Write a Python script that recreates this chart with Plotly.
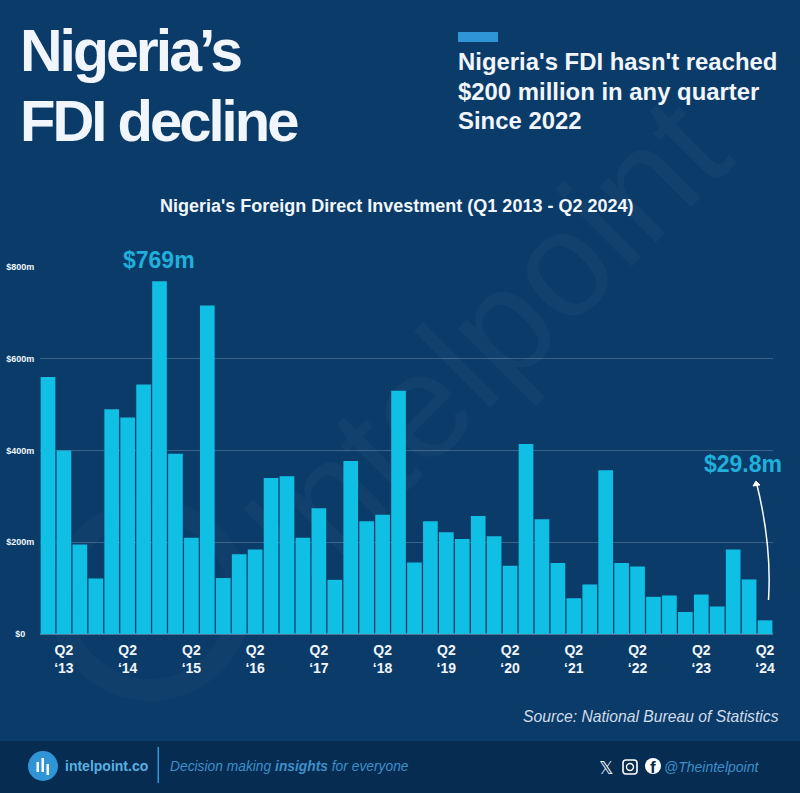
import plotly.graph_objects as go

W, H = 800, 793

# Nigeria FDI per quarter, US$ million
quarters = [f"Q{q} {y}" for y in range(2013, 2025) for q in range(1, 5)][:46]
fdi = [560, 400, 195, 121, 490, 472, 544, 769, 393, 210, 716, 122,
       174, 184, 340, 344, 210, 274, 118, 377, 246, 260, 530, 156,
       246, 222, 207, 257, 213, 149, 414, 250, 155, 78, 108, 357,
       155, 147, 81, 84, 48, 86, 60, 184, 119, 29.8]

x_ticks = [f"Q2 {y}" for y in range(2013, 2025)]
x_labels = [f"Q2<br>\u2018{str(y)[2:]}" for y in range(2013, 2025)]
y_ticks = [0, 200, 400, 600, 800]
y_labels = ["$0\u2002\u2002", "$200m", "$400m", "$600m", "$800m"]

BG = "#0b3b69"
FOOTER = "#062c52"
BAR = "#10c0e4"
LABEL = "#1fb0db"
ACCENT = "#2f95d6"
FOOT_TEXT = "#3f8fc8"
LIGHT = "#f0f6fb"


# pixel position in the 800x793 page -> paper fraction
def px(x):
    return x / W


def py(y):
    return 1 - y / H


def text(x, y, s, size, color=LIGHT, xanchor="left", font="Liberation Sans"):
    return dict(x=px(x), y=py(y), xref="paper", yref="paper", text=s, showarrow=False,
                xanchor=xanchor, yanchor="middle", align=xanchor, borderpad=0, xshift=-1,
                font=dict(family=font, size=size, color=color))


def box(x0, y0, x1, y1, color, layer="above"):
    return dict(type="rect", xref="paper", yref="paper", x0=px(x0), x1=px(x1), y0=py(y0), y1=py(y1),
                fillcolor=color, line_width=0, layer=layer)


fig = go.Figure(go.Bar(x=quarters, y=fdi, marker=dict(color=BAR, line_width=0), width=0.92))

annotations = [
    text(20, 51, "<b>Nigeria\u2019s</b>", 59),
    text(20, 120, "<b>FDI decline</b>", 58),
    text(458, 62, "<b>Nigeria's FDI hasn't reached</b>", 23.9),
    text(458, 91, "<b>$200 million in any quarter</b>", 23.9),
    text(458, 120, "<b>Since 2022</b>", 23.9),
    text(397, 206, "<b>Nigeria's Foreign Direct Investment (Q1 2013 - Q2 2024)</b>", 18, xanchor="center"),
    text(781, 716, "<i>Source: National Bureau of Statistics</i>", 15.7, color="#cfdcea", xanchor="right"),
    text(65, 766, "<b>intelpoint.co</b>", 14, color="#5ab0e0"),
    text(170, 766, "<i>Decision making <b>insights</b> for everyone</i>", 13.8, color=FOOT_TEXT),
    text(761, 767, "<i>@Theintelpoint</i>", 14, color=FOOT_TEXT, xanchor="right"),
    text(607, 767, "\U0001D54F", 18, color="white", xanchor="center", font="DejaVu Sans"),
    text(653.5, 767, "<b>f</b>", 17, color=FOOTER, xanchor="center"),
    dict(x="Q4 2014", y=769, text="<b>$769m</b>", showarrow=False, yanchor="middle", yshift=21, xshift=-1,
         font=dict(family="Liberation Sans", size=23, color=LABEL)),
    dict(x="Q2 2024", y=29.8, text="<b>$29.8m</b>", showarrow=False, yanchor="middle", xshift=-22, yshift=156,
         font=dict(family="Liberation Sans", size=23, color=LABEL)),
]

shapes = [
    # faint watermark behind the bars
    dict(type="circle", xref="paper", yref="paper", x0=px(60), x1=px(240), y0=py(690), y1=py(510),
         fillcolor="rgba(0,0,0,0)", line=dict(color="rgba(255,255,255,0.025)", width=22), layer="below"),
    dict(type="rect", xref="paper", yref="paper", x0=px(200), x1=px(750), y0=py(505), y1=py(155),
         fillcolor="rgba(0,0,0,0)", line_width=0, layer="below",
         label=dict(text="Intelpoint", textangle=-45, textposition="middle center",
                    font=dict(family="Liberation Sans", size=150, color="rgba(255,255,255,0.03)"))),
    box(0, 741, 800, 793, FOOTER, layer="below"),
    box(458, 32, 498, 42, ACCENT),
    # footer logo
    dict(type="circle", xref="paper", yref="paper", x0=px(28), x1=px(58), y0=py(781), y1=py(751),
         fillcolor=ACCENT, line_width=0),
    box(36.5, 762, 39, 772, "white"),
    box(41.5, 758, 44, 772, "white"),
    box(46.5, 764, 49, 775, "white"),
    box(157.5, 747, 159, 783, ACCENT),
    # social icons
    dict(type="path", xref="paper", yref="paper", line=dict(color="white", width=1.6),
         path=(f"M {px(626)} {py(760)} L {px(634)} {py(760)} Q {px(637)} {py(760)} {px(637)} {py(763)} "
               f"L {px(637)} {py(771)} Q {px(637)} {py(774)} {px(634)} {py(774)} "
               f"L {px(626)} {py(774)} Q {px(623)} {py(774)} {px(623)} {py(771)} "
               f"L {px(623)} {py(763)} Q {px(623)} {py(760)} {px(626)} {py(760)} Z")),
    dict(type="circle", xref="paper", yref="paper", x0=px(626.5), x1=px(633.5), y0=py(770.5), y1=py(763.5),
         fillcolor="rgba(0,0,0,0)", line=dict(color="white", width=1.4)),
    dict(type="circle", xref="paper", yref="paper", x0=px(645), x1=px(661), y0=py(774), y1=py(758),
         fillcolor="white", line_width=0),
    # curved arrow up to the $29.8m label
    dict(type="path", xref="paper", yref="paper",
         path=f"M {px(768.5)} {py(600)} Q {px(772)} {py(545)} {px(756.5)} {py(483)}",
         line=dict(color="white", width=1.5)),
    dict(type="path", xref="paper", yref="paper",
         path=f"M {px(753)} {py(486)} L {px(756)} {py(481)} L {px(760)} {py(485)} Z",
         fillcolor="white", line=dict(color="white", width=1)),
]

fig.update_layout(
    width=W, height=H,
    margin=dict(l=0, r=0, t=0, b=0, pad=0, autoexpand=False),
    paper_bgcolor=BG,
    plot_bgcolor="rgba(0,0,0,0)",
    showlegend=False,
    font=dict(family="Liberation Sans"),
    annotations=annotations,
    shapes=shapes,
    xaxis=dict(domain=[px(40), px(773)], range=[-0.5, 45.5], tickmode="array", tickvals=x_ticks, ticktext=x_labels,
               tickangle=0, showgrid=False, showline=False, ticks="outside", ticklen=3,
               tickcolor="rgba(0,0,0,0)",
               tickfont=dict(family="Liberation Sans", size=14, color=LIGHT, weight=700)),
    yaxis=dict(domain=[py(634), py(267)], range=[0, 800], tickmode="array", tickvals=y_ticks, ticktext=y_labels,
               showgrid=True, gridcolor="rgba(255,255,255,0.2)", gridwidth=1,
               zeroline=True, zerolinecolor="rgba(255,255,255,0.3)", showline=False,
               ticks="outside", ticklen=3, tickcolor="rgba(0,0,0,0)",
               tickfont=dict(family="Liberation Sans", size=9, color=LIGHT, weight=700)),
)

# heading is set tight in the original; no page margin or scrollbars so the page is exactly 800x793
post = """
document.documentElement.style.overflow = 'hidden';
document.body.style.margin = '0';
document.body.style.overflow = 'hidden';
document.body.style.height = '793px';
document.querySelectorAll('.annotation-text').forEach(function (t) {
  if (t.textContent.indexOf('Nigeria\u2019s') === 0 || t.textContent.indexOf('FDI decline') === 0) {
    t.style.letterSpacing = '-3px';
  }
});
"""
fig.write_html("out.html", post_script=post, config=dict(displayModeBar=False))
